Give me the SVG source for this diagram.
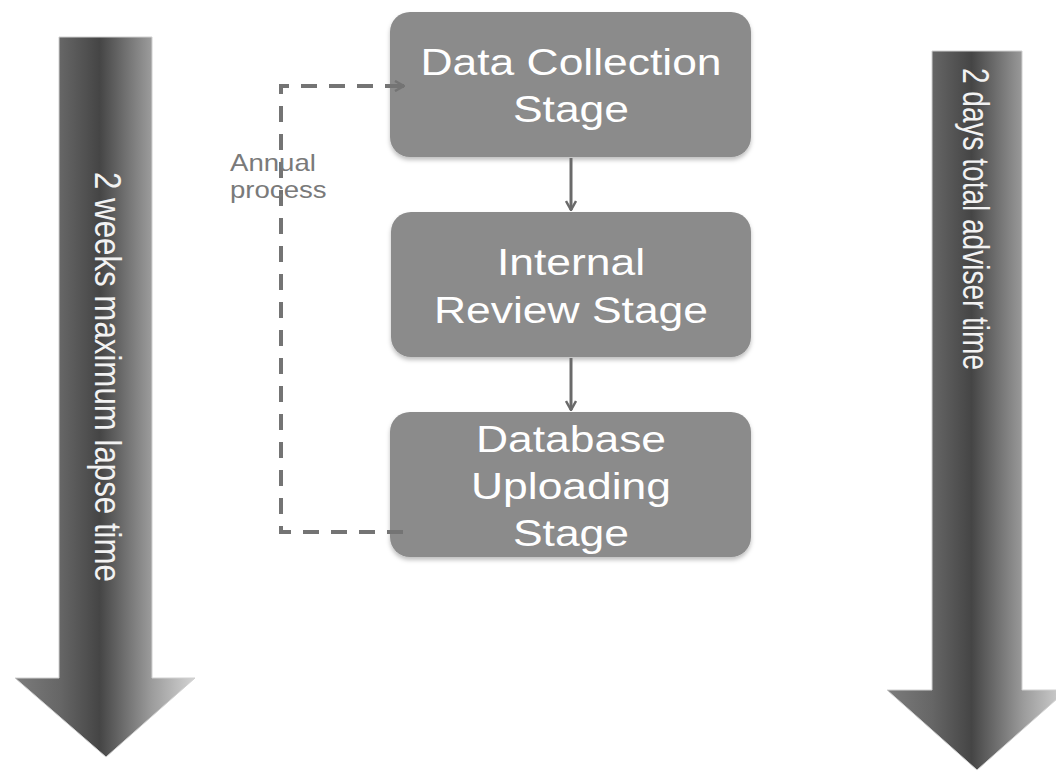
<svg xmlns="http://www.w3.org/2000/svg" width="1056" height="771" viewBox="0 0 1056 771">
<defs>
<linearGradient id="gL" gradientUnits="userSpaceOnUse" x1="15" y1="0" x2="195" y2="0">
<stop offset="0" stop-color="#7c7c7c"/>
<stop offset="0.25" stop-color="#666"/>
<stop offset="0.47" stop-color="#454545"/>
<stop offset="0.76" stop-color="#9c9c9c"/>
<stop offset="1" stop-color="#d4d4d4"/>
</linearGradient>
<linearGradient id="gR" gradientUnits="userSpaceOnUse" x1="887" y1="0" x2="1067" y2="0">
<stop offset="0" stop-color="#7c7c7c"/>
<stop offset="0.25" stop-color="#666"/>
<stop offset="0.47" stop-color="#454545"/>
<stop offset="0.76" stop-color="#9c9c9c"/>
<stop offset="1" stop-color="#d4d4d4"/>
</linearGradient>
<filter id="sh" x="-5%" y="-5%" width="110%" height="115%">
<feDropShadow dx="0" dy="3" stdDeviation="2" flood-color="#000" flood-opacity="0.25"/>
</filter>
<marker id="chev" viewBox="0 0 12 12" refX="11" refY="6" markerWidth="12" markerHeight="12" markerUnits="userSpaceOnUse" orient="auto">
<path d="M2,1 L11,6 L2,11" fill="none" stroke="#6a6a6a" stroke-width="2.5"/>
</marker>
<marker id="chevD" viewBox="0 0 12 12" refX="11" refY="6" markerWidth="12" markerHeight="12" markerUnits="userSpaceOnUse" orient="auto">
<path d="M2,1 L11,6 L2,11" fill="none" stroke="#747474" stroke-width="2.5"/>
</marker>
</defs>
<style>
.box{fill:#8b8b8b;filter:url(#sh)}
.bt{font-family:"Liberation Sans",Arial,sans-serif;font-size:37px;fill:#fff;text-anchor:middle}
.at{font-family:"Liberation Sans",Arial,sans-serif;font-size:31px;fill:#f2f2f2}
.lbl{font-family:"Liberation Sans",Arial,sans-serif;font-size:23px;fill:#7a7a7a}
.conn{fill:none;stroke:#6a6a6a;stroke-width:3}
.dash{fill:none;stroke:#747474;stroke-width:4;stroke-dasharray:16 12}
</style>
<rect width="1056" height="771" fill="#fff"/>

<g id="arrow-left">
<path d="M59,37 L152,37 L152,678 L195,678 L106,757 L15,678 L59,678 Z" fill="url(#gL)" stroke="#d0d0d0" stroke-width="1"/>
<text class="at" transform="translate(95,172) scale(1.2,1) rotate(90)" textLength="410" lengthAdjust="spacingAndGlyphs">2 weeks maximum lapse time</text>
</g>

<g id="arrow-right">
<path d="M932,51 L1022,51 L1022,690 L1067,690 L977,770 L887,690 L932,690 Z" fill="url(#gR)" stroke="#d0d0d0" stroke-width="1"/>
<text class="at" transform="translate(963,68) scale(1.2,1) rotate(90)" textLength="302" lengthAdjust="spacingAndGlyphs">2 days total adviser time</text>
</g>

<g id="node-data-collection">
<rect class="box" x="390" y="12" width="361" height="145" rx="20"/>
<g transform="translate(571,0) scale(1.2,1)">
<text class="bt" x="0" y="75">Data Collection</text>
<text class="bt" x="0" y="122">Stage</text>
</g>
</g>

<g id="node-internal-review">
<rect class="box" x="391" y="212" width="360" height="145" rx="20"/>
<g transform="translate(571,0) scale(1.2,1)">
<text class="bt" x="0" y="275">Internal</text>
<text class="bt" x="0" y="323">Review Stage</text>
</g>
</g>

<g id="node-database-uploading">
<rect class="box" x="390" y="412" width="361" height="145" rx="20"/>
<g transform="translate(571,0) scale(1.2,1)">
<text class="bt" x="0" y="452">Database</text>
<text class="bt" x="0" y="499">Uploading</text>
<text class="bt" x="0" y="546">Stage</text>
</g>
</g>

<g id="connectors">
<line class="conn" x1="571" y1="158" x2="571" y2="210" marker-end="url(#chev)"/>
<line class="conn" x1="571" y1="358" x2="571" y2="410" marker-end="url(#chev)"/>
<path class="dash" d="M403,532 L281,532 L281,86 L400,86"/>
<line x1="398" y1="86" x2="404" y2="86" stroke="#747474" stroke-width="4" marker-end="url(#chevD)"/>
</g>

<g id="label-annual">
<text class="lbl" transform="translate(230,171) scale(1.2,1)">Annual</text>
<text class="lbl" transform="translate(230,198) scale(1.2,1)">process</text>
</g>
</svg>
